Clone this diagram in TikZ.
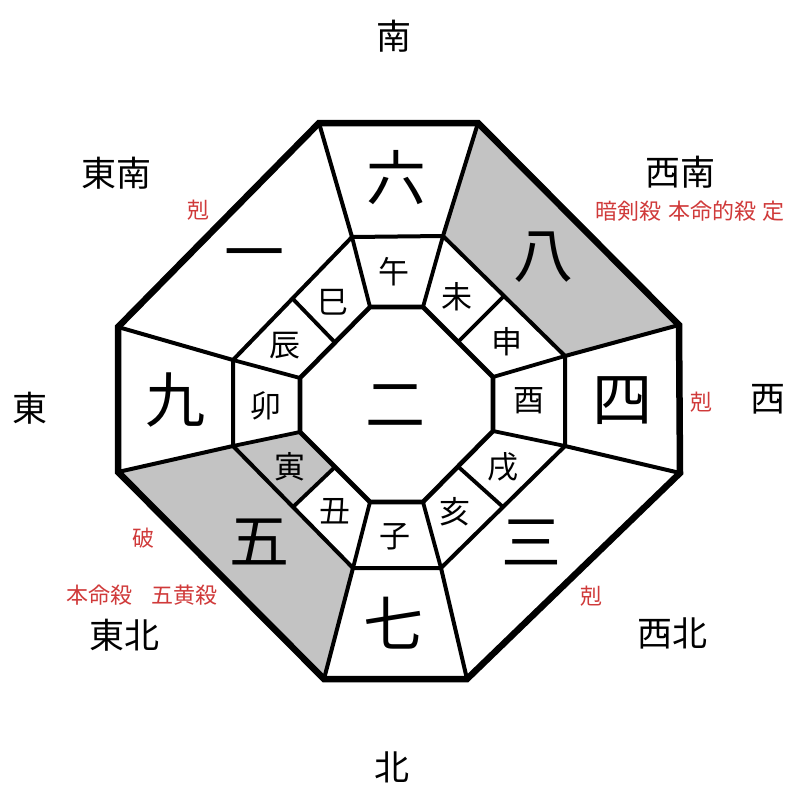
\documentclass[tikz,border=0pt]{standalone}
\usepackage{fontspec}
\setmainfont{Noto Sans CJK JP}
\usepackage{tikz}
\usetikzlibrary{calc}
\definecolor{ink}{HTML}{000000}
\definecolor{warn}{HTML}{D03A3A}
\definecolor{dark}{HTML}{C3C3C3}
\tikzset{
  rim/.style={draw=ink,line width=6.5pt,line join=miter},
  ring/.style={draw=ink,line width=4pt},
  core/.style={draw=ink,line width=4.6pt},
  cut/.style={draw=ink,line width=3.8pt},
  dim/.style={fill=dark},
  kyusei/.style={inner sep=0pt,font=\fontsize{60}{60}\selectfont},
  eto/.style={inner sep=0pt,font=\fontsize{31}{31}\selectfont},
  houi/.style={inner sep=0pt,font=\fontsize{35}{35}\selectfont},
  sakkai/.style={inner sep=0pt,text=warn,font=\fontsize{22}{22}\selectfont},
}
\begin{document}
\begin{tikzpicture}[x=1pt,y=-1pt]
\fill[white] (0,0) rectangle (800,800);
\useasboundingbox (0,0) rectangle (800,800);
% outer, middle and inner octagon corners, clockwise from top left
\foreach \i/\ox/\oy/\mx/\my/\nx/\ny in {
  1/319/123/352/237/370/307,
  2/478/123/443/236/423/307,
  3/679/325/565/356/493/377,
  4/680/473/565/446/493/431,
  5/467/679/441/568/423/502,
  6/324/679/353/568/370/502,
  7/118/472/233/446/300/432,
  8/118/327/233/360/300/378} {
  \coordinate (o\i) at (\ox,\oy);
  \coordinate (m\i) at (\mx,\my);
  \coordinate (n\i) at (\nx,\ny);
}
\coordinate (mne) at ($(m2)!0.5!(m3)$);
\coordinate (mse) at ($(m4)!0.5!(m5)$);
\coordinate (msw) at ($(m6)!0.5!(m7)$);
\coordinate (mnw) at ($(m8)!0.5!(m1)$);
\coordinate (nne) at ($(n2)!0.5!(n3)$);
\coordinate (nse) at ($(n4)!0.5!(n5)$);
\coordinate (nsw) at ($(n6)!0.5!(n7)$);
\coordinate (nnw) at ($(n8)!0.5!(n1)$);
% grey cells
\fill[dim] (o2)--(o3)--(m3)--(m2)--cycle;
\fill[dim] (o6)--(o7)--(m7)--(m6)--cycle;
\fill[dim] (m7)--(msw)--(nsw)--(n7)--cycle;
% separators
\foreach \i in {1,...,8} {
  \draw[ring] (o\i)--(m\i);
  \draw[cut] (m\i)--(n\i);
}
\foreach \d in {ne,se,sw,nw}
  \draw[cut] (m\d)--(n\d);
\draw[ring] (m1)--(m2)--(m3)--(m4)--(m5)--(m6)--(m7)--(m8)--cycle;
\draw[core] (n1)--(n2)--(n3)--(n4)--(n5)--(n6)--(n7)--(n8)--cycle;
\draw[rim] (o1)--(o2)--(o3)--(o4)--(o5)--(o6)--(o7)--(o8)--cycle;
% stars
\foreach \nm/\x/\y/\t in {
  roku/396/178/六, hachi/543/257/八, ichi/254/262/一, kyu/175/400/九,
  yon/622/401/四, go/259/542/五, san/531/542/三, nana/393/623/七,
  ni/395/406/二} {
  \node[kyusei] (\nm) at (\x,\y) {\t};
}
% twelve branches
\foreach \nm/\x/\y/\t in {
  uma/394/272/午, hitsuji/457/297/未, saru/507/342/申, tori/529/401/酉,
  inu/503/467/戌, i/455/512/亥, ne/395/537/子, ushi/335/511/丑,
  tora/290/467/寅, u/266/406/卯, tatsu/285/346/辰, mi/333/302/巳} {
  \node[eto] (\nm) at (\x,\y) {\t};
}
% directions
\foreach \nm/\x/\y/\t in {
  minami/394/36/南, tounan/116/173/東南, seinan/680/172/西南,
  higashi/30/408/東, nishi/768/399/西, touhoku/124/635/東北,
  seihoku/672/633/西北, kita/392/767/北} {
  \node[houi] (\nm) at (\x,\y) {\t};
}
% marks
\node[sakkai] (koku1) at (198,210) {剋};
\node[sakkai] (ankensatsu) at (690,211) {暗剣殺\hspace{0.3em}本命的殺\hspace{0.3em}定};
\node[sakkai] (koku2) at (701,402) {剋};
\node[sakkai] (ha) at (143,538) {破};
\node[sakkai] (gooh) at (142,595) {本命殺\hspace{0.9em}五黄殺};
\node[sakkai] (koku3) at (591,596) {剋};
\end{tikzpicture}
\end{document}
